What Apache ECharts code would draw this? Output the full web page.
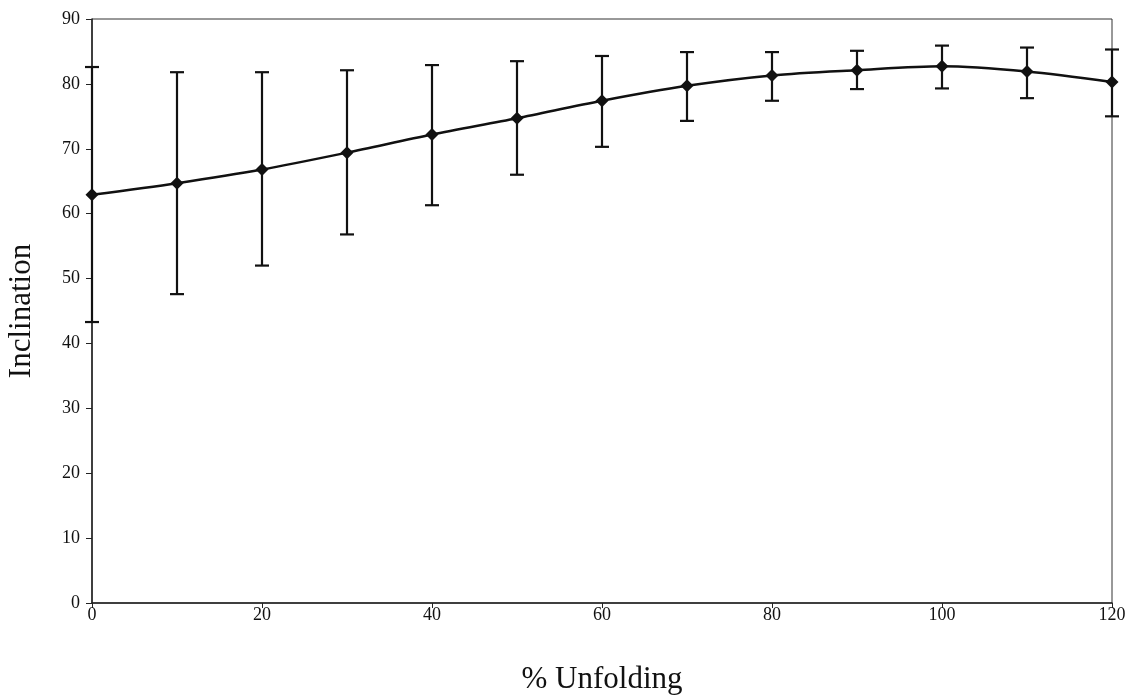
<!DOCTYPE html>
<html>
<head>
<meta charset="utf-8">
<script src="https://cdn.jsdelivr.net/npm/echarts@6/dist/echarts.min.js"></script>
<style>html,body{margin:0;padding:0;background:#fff;}#c{width:1136px;height:696px;}</style>
</head>
<body>
<div id="c"></div>
<script>
const unfolding = [0, 10, 20, 30, 40, 50, 60, 70, 80, 90, 100, 110, 120];
const inclination = [62.9, 64.7, 66.8, 69.4, 72.2, 74.7, 77.4, 79.7, 81.3, 82.1, 82.7, 81.9, 80.3];
const errLow = [43.3, 47.6, 52.0, 56.8, 61.3, 66.0, 70.3, 74.3, 77.4, 79.2, 79.3, 77.8, 75.0];
const errHigh = [82.6, 81.8, 81.8, 82.1, 82.9, 83.5, 84.3, 84.9, 84.9, 85.1, 85.9, 85.6, 85.3];

const lineData = unfolding.map((x, i) => [x, inclination[i]]);
const errData = unfolding.map((x, i) => [x, errLow[i], errHigh[i]]);

const chart = echarts.init(document.getElementById('c'));
const font = 'Liberation Serif, Times New Roman, serif';
chart.setOption({
  animation: false,
  backgroundColor: '#fff',
  grid: { left: 92, right: 24, top: 19, bottom: 93, show: true, borderColor: '#333', borderWidth: 1,
          containLabel: false, outerBoundsMode: 'none' },
  xAxis: {
    type: 'value', min: 0, max: 120, interval: 20,
    name: '% Unfolding', nameLocation: 'middle', nameGap: 61,
    nameTextStyle: { fontFamily: font, fontSize: 31, color: '#111' },
    axisLine: { show: true, lineStyle: { color: '#222', width: 1.5 } },
    axisTick: { show: true, length: 5, lineStyle: { color: '#222' } },
    axisLabel: { fontFamily: font, fontSize: 18, color: '#111', margin: 3 },
    splitLine: { show: false }
  },
  yAxis: {
    type: 'value', min: 0, max: 90, interval: 10,
    name: 'Inclination', nameLocation: 'middle', nameGap: 55,
    nameTextStyle: { fontFamily: font, fontSize: 31, color: '#111' },
    axisLine: { show: true, lineStyle: { color: '#222', width: 1.5 } },
    axisTick: { show: true, length: 6, lineStyle: { color: '#222' } },
    axisLabel: { fontFamily: font, fontSize: 18, color: '#111', margin: 12 },
    splitLine: { show: false }
  },
  series: [
    {
      type: 'custom',
      data: errData,
      z: 2,
      renderItem: function (params, api) {
        const x = api.value(0);
        const lo = api.coord([x, api.value(1)]);
        const hi = api.coord([x, api.value(2)]);
        const hw = 7;
        const style = { stroke: '#111', lineWidth: 2.2 };
        return {
          type: 'group',
          children: [
            { type: 'line', shape: { x1: lo[0], y1: lo[1], x2: hi[0], y2: hi[1] }, style: style },
            { type: 'line', shape: { x1: lo[0] - hw, y1: lo[1], x2: lo[0] + hw, y2: lo[1] }, style: style },
            { type: 'line', shape: { x1: hi[0] - hw, y1: hi[1], x2: hi[0] + hw, y2: hi[1] }, style: style }
          ]
        };
      }
    },
    {
      type: 'line',
      data: lineData,
      smooth: 0.3,
      z: 3,
      symbol: 'diamond',
      symbolSize: 13,
      lineStyle: { color: '#111', width: 2.5 },
      itemStyle: { color: '#111' }
    }
  ]
});
</script>
</body>
</html>
